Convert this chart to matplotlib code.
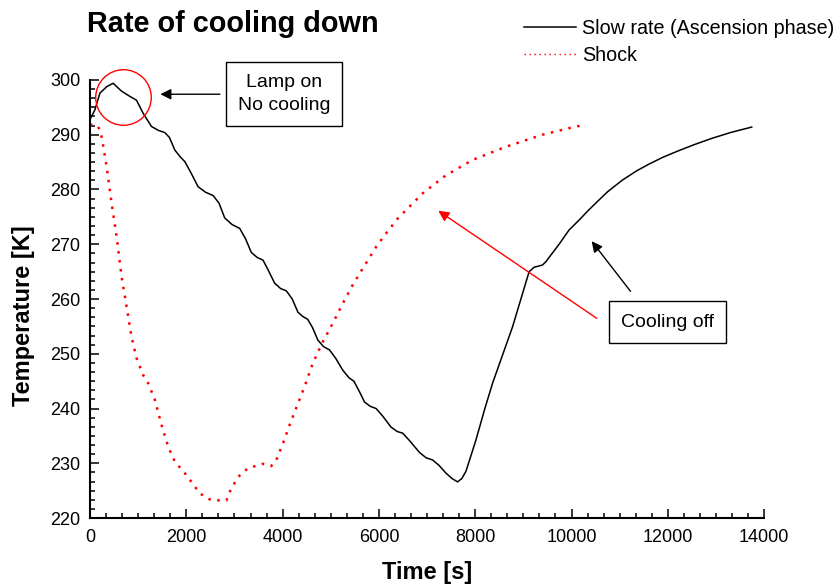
import matplotlib
matplotlib.use('Agg')
import matplotlib.pyplot as plt
from matplotlib.ticker import MultipleLocator

plt.rcParams['font.family'] = ['Liberation Sans', 'DejaVu Sans']

# slow rate run (ascension phase)
time_slow = [0, 100, 207, 350, 483, 650, 829, 967, 1105, 1278, 1420, 1554, 1650,
             1762, 1880, 1969, 2100, 2245, 2400, 2556, 2680, 2798, 2950, 3109,
             3230, 3351, 3470, 3593, 3700, 3834, 3960, 4076, 4200, 4318, 4420,
             4520, 4620, 4732, 4850, 4974, 5100, 5250, 5380, 5480, 5600, 5700,
             5820, 5941, 6080, 6252, 6380, 6493, 6650, 6839, 6980, 7115, 7250,
             7392, 7520, 7634, 7720, 7806, 8013, 8200, 8359, 8774, 9119, 9223, 9395,
             9465, 9741, 9948, 10155, 10350, 10501, 10750, 11053, 11350, 11600,
             11900, 12200, 12550, 12900, 13300, 13741]
temp_slow = [292.8, 294.5, 297.6, 298.8, 299.4, 298.0, 297.0, 296.3, 293.9, 291.5,
             290.8, 290.4, 289.5, 287.2, 285.9, 285.1, 283.0, 280.5, 279.5, 278.9,
             277.5, 274.8, 273.6, 272.9, 271.0, 268.5, 267.6, 267.1, 265.3, 262.9,
             261.9, 261.5, 260.0, 257.6, 256.8, 256.3, 254.8, 252.5, 251.3, 250.7,
             249.2, 247.0, 245.6, 245.0, 243.0, 241.2, 240.4, 240.0, 238.6, 236.6,
             235.8, 235.5, 234.0, 232.0, 231.0, 230.6, 229.6, 228.2, 227.2, 226.6,
             227.2, 228.5, 234.2, 240.0, 244.6, 254.9, 265.0, 265.8, 266.2, 266.8, 270.0,
             272.6, 274.4, 276.2, 277.5, 279.6, 281.7, 283.4, 284.6, 285.9, 287.0,
             288.2, 289.3, 290.4, 291.4]

# shock run
time_shock = [0, 100, 172, 242, 346, 449, 553, 656, 760, 863, 967, 1105, 1209,
              1347, 1486, 1624, 1762, 1969, 2107, 2280, 2487, 2700, 2832, 2902,
              3074, 3282, 3593, 3765, 3869, 4007, 4145, 4318, 4456, 4629, 4836,
              5043, 5250, 5458, 5665, 5941, 6149, 6390, 6908, 7392, 7945, 8636,
              9395, 10086, 10150, 10217]
temp_shock = [291.8, 291.8, 291.5, 289.6, 284.2, 277.5, 271.4, 264.1, 258.6, 253.1,
              249.2, 246.1, 244.6, 241.6, 237.0, 233.0, 230.3, 228.2, 226.6, 224.5,
              223.4, 223.2, 223.2, 224.8, 227.5, 229.1, 229.9, 229.5, 230.6, 233.6,
              237.0, 240.9, 244.0, 248.3, 252.2, 255.6, 259.2, 262.6, 265.6, 269.5,
              272.0, 274.7, 279.3, 282.6, 285.4, 287.8, 290.0, 291.5, 291.6, 292.6]

fig = plt.figure(figsize=(8.37, 5.86), dpi=100)
ax = fig.add_axes([0.1075, 0.116, 0.8055, 0.7475])

ax.plot(time_slow, temp_slow, color='black', lw=1.1, label='Slow rate (Ascension phase)')
ax.plot(time_shock, temp_shock, color='red', lw=1.8, linestyle=(0, (1, 2.6)), label='Shock')

ax.set_xlim(0, 14000)
ax.set_ylim(220, 300)
ax.spines['top'].set_visible(False)
ax.spines['right'].set_visible(False)
ax.spines['left'].set_linewidth(1.5)
ax.spines['bottom'].set_linewidth(1.5)
ax.xaxis.set_major_locator(MultipleLocator(2000))
ax.xaxis.set_minor_locator(MultipleLocator(2000 / 6))
ax.yaxis.set_major_locator(MultipleLocator(10))
ax.yaxis.set_minor_locator(MultipleLocator(10 / 6))
ax.tick_params(which='both', direction='in', width=1.1, labelsize=13)
ax.tick_params(which='major', length=6.5)
ax.tick_params(which='minor', length=3.6)
ax.tick_params(axis='x', pad=8)
ax.tick_params(axis='y', pad=7)

ax.set_xlabel('Time [s]', fontsize=17, fontweight='bold')
ax.set_ylabel('Temperature [K]', fontsize=17, fontweight='bold')
ax.xaxis.set_label_coords(0.5, -0.098)
ax.yaxis.set_label_coords(-0.081, 0.461)

fig.text(87 / 837, 1 - 24 / 586, 'Rate of cooling down', fontsize=20.8,
         fontweight='bold', va='center', ha='left')

leg = ax.legend(loc='upper right', bbox_to_anchor=(1.009, 0.985), bbox_transform=fig.transFigure,
                frameon=False, fontsize=14.2, handlelength=2.6, handletextpad=0.35,
                labelspacing=0.4, borderaxespad=0.2, borderpad=0.3)
leg.get_lines()[1].set_linewidth(1.0)

# "Lamp on" marker and note
ax.plot([677], [296.95], marker='o', markersize=40, markerfacecolor='none',
        markeredgecolor='red', markeredgewidth=1.0, clip_on=False)
box = dict(boxstyle='square,pad=0.62', fc='white', ec='black', lw=1.0)
ax.text(4031, 297.5, 'Lamp on\nNo cooling', fontsize=14, ha='center', va='center',
        multialignment='center', linespacing=1.45, bbox=box)
ax.annotate('', xy=(1403, 297.4), xytext=(2756, 297.4),
            arrowprops=dict(arrowstyle='-|>', color='black', lw=1.0, mutation_scale=16))

ax.text(12000, 255.8, 'Cooling off', fontsize=14, ha='center', va='center', bbox=box)
ax.annotate('', xy=(10383, 270.96), xytext=(11260, 261.0),
            arrowprops=dict(arrowstyle='-|>', color='black', lw=1.0, mutation_scale=16))
ax.annotate('', xy=(7185, 276.4), xytext=(10570, 256.2),
            arrowprops=dict(arrowstyle='-|>', color='red', lw=1.0, mutation_scale=16))

fig.savefig('out.png', dpi=100)
